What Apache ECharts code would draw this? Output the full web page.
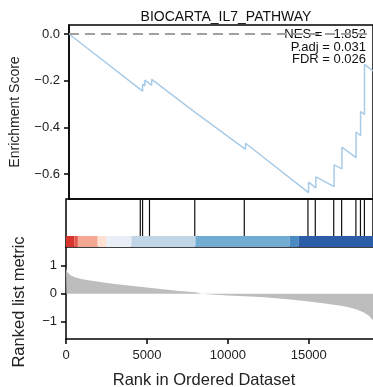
<!DOCTYPE html>
<html>
<head>
<meta charset="utf-8">
<script src="https://cdn.jsdelivr.net/npm/echarts@6/dist/echarts.min.js"></script>
<style>
  html, body { margin: 0; padding: 0; background: #fff; }
  #chart { width: 373px; height: 387px; }
</style>
</head>
<body>
<div id="chart"></div>
<script>
const title = 'BIOCARTA_IL7_PATHWAY';
const stats = ['NES = \u22121.852', 'P.adj = 0.031', 'FDR = 0.026'];
const xName = 'Rank in Ordered Dataset';
const metricName = 'Ranked list metric';
const xMax = 18970;
const xTicks = [0, 5000, 10000, 15000];
const esTicks = [-0.6, -0.4, -0.2, 0];
const metricTicks = [-1, 0, 1];

// running enrichment score
const esRank = [0, 4590, 4590, 4731, 4731, 5159, 5159, 7956, 7956, 11016, 11016,
  14951, 14951, 15404, 15404, 16542, 16542, 17032, 17032, 17913, 17913,
  18195, 18195, 18439, 18439, 18970];
const esValue = [0, -0.245, -0.215, -0.222, -0.198, -0.220, -0.194, -0.340, -0.334, -0.494, -0.468,
  -0.680, -0.635, -0.659, -0.612, -0.654, -0.561, -0.578, -0.485, -0.530, -0.420,
  -0.435, -0.332, -0.345, -0.130, -0.158];

// genes of the set in the ranked list
const hitRanks = [4590, 4731, 5159, 7956, 11016, 14951, 15404, 16542, 17032, 17913, 18195, 18439];

// colour bar segments
const barStart = [0, 520, 734, 1958, 2478, 4039, 7999, 13813, 14364];
const barEnd = [520, 734, 1958, 2478, 4039, 7999, 13813, 14364, 18970];
const barColors = ['#d7352d', '#e2594b', '#f4a792', '#fde0d2', '#eaeff7', '#c0d5e6', '#72acd3', '#4a8cc2', '#2c5ea7'];

// ranked list metric
const metricRank = [0, 30, 80, 150, 300, 600, 1000, 1500, 2000, 3000, 4000, 5000, 6000, 7000, 8000, 8400,
  9000, 10000, 11000, 12000, 13000, 14000, 15000, 16000, 17000, 17600, 18000, 18400, 18700, 18970];
const metricValue = [0.95, 0.86, 0.78, 0.72, 0.65, 0.58, 0.52, 0.47, 0.43, 0.35, 0.28, 0.22, 0.16, 0.10, 0.05, 0,
  -0.03, -0.06, -0.09, -0.12, -0.16, -0.22, -0.28, -0.35, -0.43, -0.50, -0.57, -0.67, -0.78, -0.95];

const chart = echarts.init(document.getElementById('chart'));
const font = 'Liberation Sans, Arial, sans-serif';
const minus = (v) => String(v).replace('-', '\u2212');
const axisLine = { show: true, onZero: false, lineStyle: { color: '#000', width: 1.5 } };
const axisTick = { show: true, length: 5, lineStyle: { color: '#000', width: 1.5 } };

const option = {
  animation: false,
  title: {
    text: title, left: 221, top: 5, textAlign: 'center',
    textStyle: { fontFamily: font, fontSize: 14, fontWeight: 'normal', color: '#111' }
  },
  graphic: stats.map((s, i) => ({
    type: 'text', right: 7, top: 28 + i * 12.5,
    style: { text: s, fontFamily: font, fontSize: 13, fill: '#111', textAlign: 'right' }
  })).concat([
    {
      type: 'text', x: 204, y: 380,
      style: { text: xName, fontFamily: font, fontSize: 16.5, fill: '#222', textAlign: 'center', textVerticalAlign: 'middle' }
    },
    {
      type: 'text', x: 19, y: 302, rotation: Math.PI / 2,
      style: { text: metricName, fontFamily: font, fontSize: 16.5, fill: '#222', textAlign: 'center', textVerticalAlign: 'middle' }
    }
  ]),
  grid: [
    { left: 66, right: -3, top: 25, height: 174, show: true, borderColor: '#000', borderWidth: 1.5 },
    { left: 66, right: -3, top: 199, height: 48, show: true, borderColor: '#000', borderWidth: 1.5 },
    { left: 66, right: -3, top: 247, height: 92 }
  ],
  xAxis: [
    { gridIndex: 0, type: 'value', min: 0, max: xMax, show: false },
    { gridIndex: 1, type: 'value', min: 0, max: xMax, show: false },
    {
      gridIndex: 2, type: 'value', min: 0, max: xMax, interval: 5000,
      axisLine, splitLine: { show: false },
      axisTick: Object.assign({ customValues: xTicks }, axisTick),
      axisLabel: { customValues: xTicks, formatter: (v) => String(v), fontFamily: font, fontSize: 13, color: '#222', margin: 10 }
    }
  ],
  yAxis: [
    {
      gridIndex: 0, type: 'value', min: -0.707, max: 0.0386,
      axisLine, splitLine: { show: false },
      axisTick: Object.assign({ customValues: esTicks }, axisTick),
      axisLabel: { customValues: esTicks, formatter: (v) => minus(v.toFixed(1)), fontFamily: font, fontSize: 13, color: '#222', margin: 9 },
      name: 'Enrichment Score', nameLocation: 'middle', nameGap: 47,
      nameTextStyle: { fontFamily: font, fontSize: 14, color: '#222' }
    },
    { gridIndex: 1, type: 'value', min: 0, max: 1, show: false },
    {
      gridIndex: 2, type: 'value', min: -1.62, max: 1.67,
      axisLine, splitLine: { show: false },
      axisTick: Object.assign({ customValues: metricTicks }, axisTick),
      axisLabel: { customValues: metricTicks, formatter: (v) => minus(v), fontFamily: font, fontSize: 13, color: '#222', margin: 9 }
    }
  ],
  series: [
    {
      type: 'line', xAxisIndex: 0, yAxisIndex: 0, symbol: 'none', z: 3,
      data: esRank.map((r, i) => [r, esValue[i]]),
      lineStyle: { color: '#a8cbe8', width: 1.5 },
      markLine: {
        silent: true, symbol: 'none', label: { show: false },
        lineStyle: { color: '#a0a0a0', type: [10, 6], width: 1.8 },
        data: [{ yAxis: 0 }]
      }
    },
    {
      type: 'custom', xAxisIndex: 1, yAxisIndex: 1,
      data: barStart.map((s, i) => [s, barEnd[i], i]),
      renderItem: (params, api) => {
        const p0 = api.coord([api.value(0), 0.23]);
        const p1 = api.coord([api.value(1), 0]);
        return {
          type: 'rect',
          shape: { x: p0[0], y: p0[1], width: p1[0] - p0[0], height: p1[1] - p0[1] },
          style: { fill: barColors[api.value(2)] }
        };
      }
    },
    {
      type: 'custom', xAxisIndex: 1, yAxisIndex: 1,
      data: hitRanks.map((r) => [r]),
      renderItem: (params, api) => {
        const a = api.coord([api.value(0), 0.23]);
        const b = api.coord([api.value(0), 1]);
        return {
          type: 'line',
          shape: { x1: a[0], y1: a[1], x2: b[0], y2: b[1] },
          style: { stroke: '#111', lineWidth: 1.2 }
        };
      }
    },
    {
      type: 'line', xAxisIndex: 2, yAxisIndex: 2, symbol: 'none',
      data: metricRank.map((r, i) => [r, metricValue[i]]),
      lineStyle: { width: 0 },
      areaStyle: { color: '#bdbdbd', opacity: 1, origin: 0 }
    }
  ]
};

chart.setOption(option);
window.addEventListener('resize', () => chart.resize());
</script>
</body>
</html>
